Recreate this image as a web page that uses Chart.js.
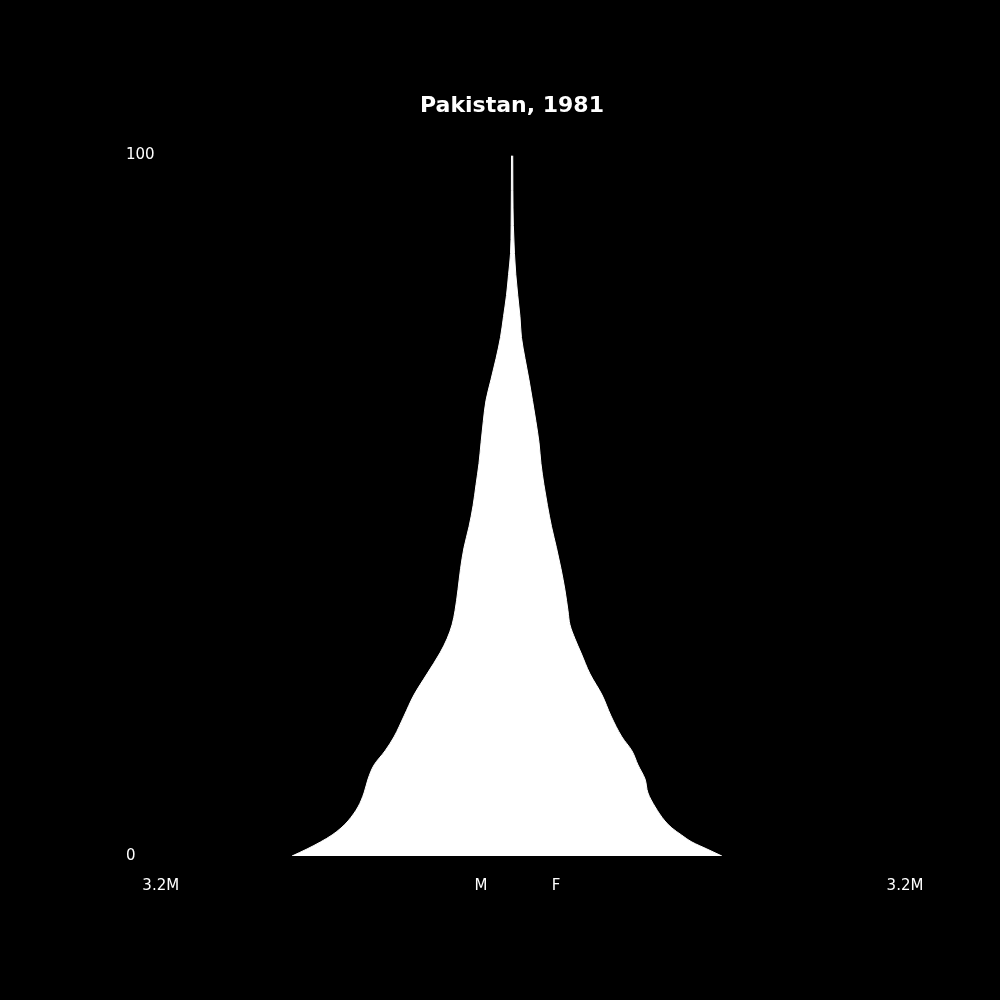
<!DOCTYPE html>
<html>
<head>
<meta charset="utf-8">
<title>Pakistan, 1981</title>
<script src="https://cdn.jsdelivr.net/npm/chart.js@4.4.1/dist/chart.umd.min.js"></script>
<style>
  html, body { margin: 0; padding: 0; background: #000; }
  canvas { display: block; }
</style>
</head>
<body>
<canvas id="pyramid" width="1000" height="1000"></canvas>
<script>
// ages sampled along the outline
const AGES = [
  0, 1, 2, 3, 4, 5, 7, 9, 11, 13, 15, 17, 20, 23, 26, 29, 31, 33, 35,
  38, 41, 44, 47, 50, 53, 56, 59, 62, 65, 68, 71, 74, 77, 80, 83, 86,
  90, 95, 100
];

// population at those ages, thousands
const MALE = [
  1791, 1669, 1560, 1465, 1392, 1335, 1254, 1205, 1172, 1123, 1034, 961,
  879, 798, 692, 586, 529, 488, 464,
  440, 419, 391, 350, 317, 293, 269, 252, 234, 212, 171, 130, 94, 69, 45,
  28, 12,
  7, 5, 4
];
const FEMALE = [
  1709, 1587, 1465, 1380, 1302, 1245, 1166, 1107, 1083, 1026, 977, 895,
  806, 733, 635, 562, 513, 472, 456,
  431, 399, 362, 322, 289, 260, 236, 220, 195, 167, 138, 106, 77, 65, 47,
  31, 20,
  11, 7, 6
];

const X_TICK_VALUES = [-2860, -252, 358, 3200];
const X_TICK_LABELS = ['3.2M', 'M', 'F', '3.2M'];
const Y_TICK_VALUES = [0, 100];
const Y_TICK_LABELS = ['0', '100'];

const FONT = 'DejaVu Sans';
const WHITE = '#ffffff';

const maleSide = AGES.map((a, i) => ({ x: -MALE[i], y: a }));
const femaleSide = AGES.map((a, i) => ({ x: FEMALE[i], y: a }));

function sideStyle(label, data) {
  return {
    label: label,
    data: data,
    borderColor: WHITE,
    backgroundColor: WHITE,
    borderWidth: 1,
    pointRadius: 0,
    fill: 'origin',
    cubicInterpolationMode: 'monotone'
  };
}

new Chart(document.getElementById('pyramid'), {
  type: 'line',
  data: {
    datasets: [sideStyle('M', maleSide), sideStyle('F', femaleSide)]
  },
  options: {
    responsive: false,
    animation: false,
    indexAxis: 'y',
    layout: {
      padding: { left: 105, right: 95, top: 93, bottom: 84 }
    },
    plugins: {
      legend: { display: false },
      tooltip: { enabled: false },
      title: {
        display: true,
        fullSize: false, // centre over the plot, not the canvas
        text: 'Pakistan, 1981',
        color: WHITE,
        font: { family: FONT, size: 22, weight: 'bold' },
        padding: { top: 0, bottom: 36 }
      }
    },
    scales: {
      x: {
        type: 'linear',
        min: -3200,
        max: 3200,
        grid: { display: false, drawTicks: false },
        border: { display: false },
        afterBuildTicks: s => { s.ticks = X_TICK_VALUES.map(v => ({ value: v })); },
        ticks: {
          color: WHITE,
          font: { family: FONT, size: 15 },
          padding: 21,
          maxRotation: 0,
          autoSkip: false,
          callback: (v, i) => X_TICK_LABELS[i]
        }
      },
      y: {
        type: 'linear',
        min: 0,
        max: 100,
        grid: { display: false, drawTicks: false },
        border: { display: false },
        afterBuildTicks: s => { s.ticks = Y_TICK_VALUES.map(v => ({ value: v })); },
        ticks: {
          mirror: true,
          padding: 7,
          color: WHITE,
          font: { family: FONT, size: 15 },
          callback: (v, i) => Y_TICK_LABELS[i]
        }
      }
    }
  }
});
</script>
</body>
</html>
